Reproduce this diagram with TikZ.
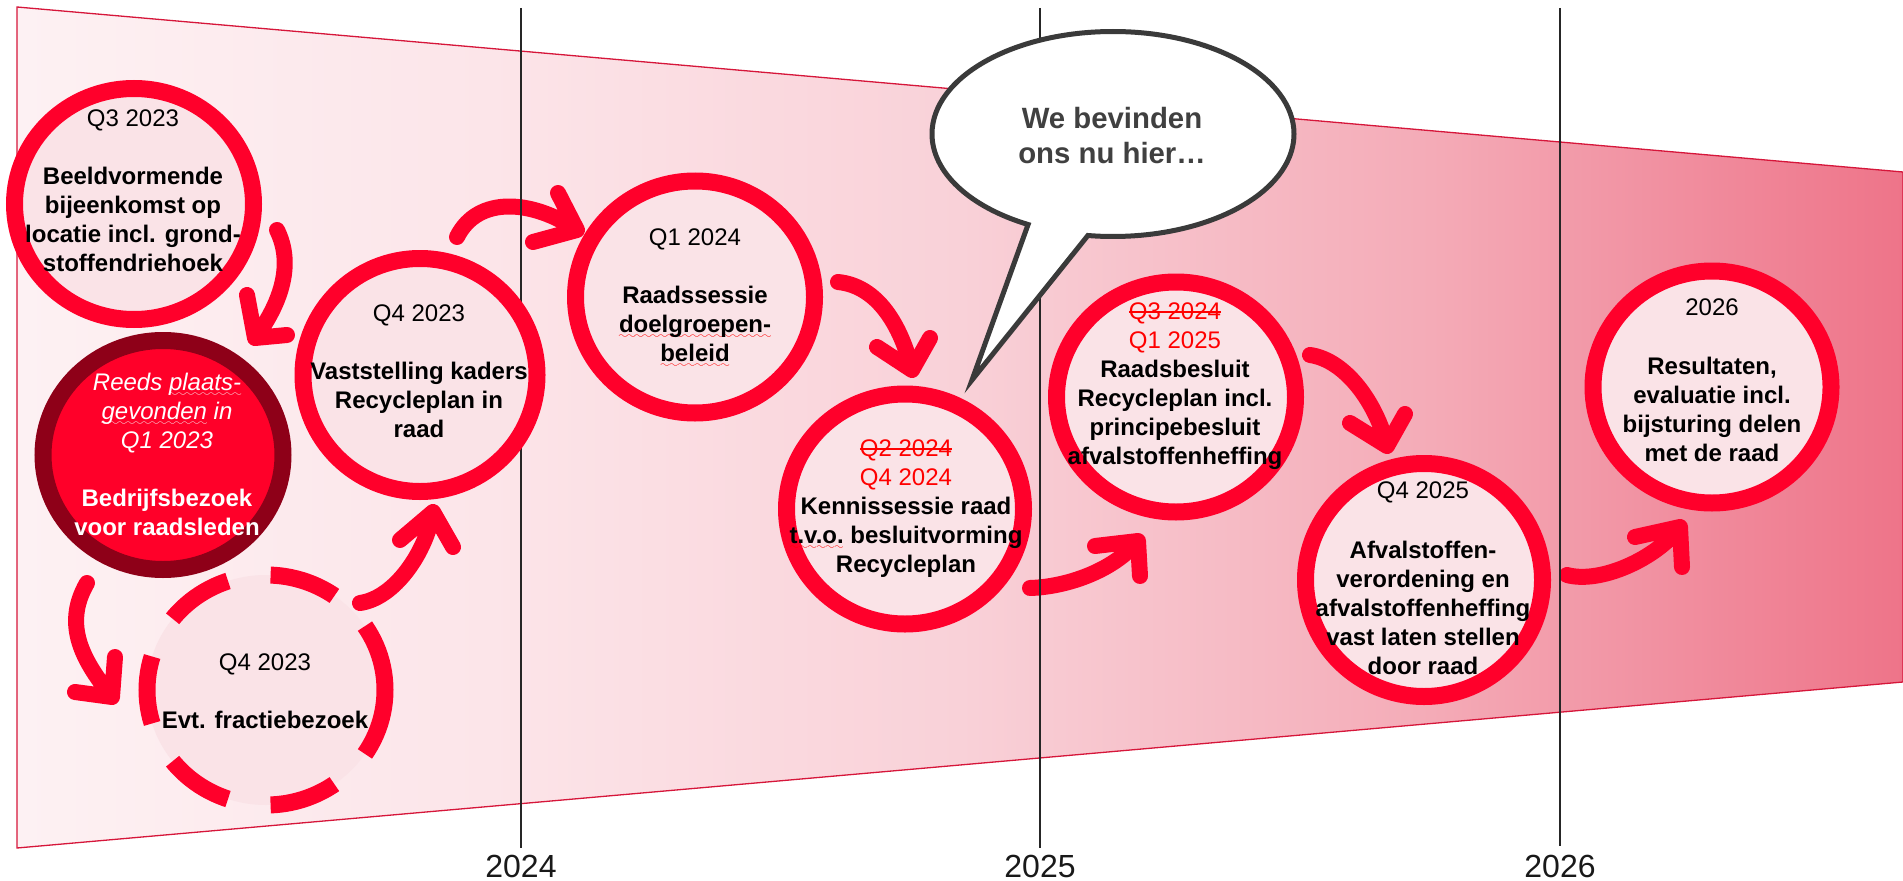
\documentclass[tikz,border=0pt]{standalone}
\usepackage{fontspec}
\setmainfont{Liberation Sans}[Ligatures=NoCommon]
\usetikzlibrary{shapes.geometric,shapes.callouts}
\newdimen\pxu \pxu=0.75pt
\newsavebox\strkbox
\newsavebox\sqbox
\font\wavefont=lasy6 scaled 1200
\newcommand\strk[1]{\sbox\strkbox{#1}\rlap{\usebox\strkbox}\rule[6.5\pxu]{\wd\strkbox}{2\pxu}}
\newcommand\sqw[2][red]{\sbox\sqbox{#2}\rlap{\lower4.5pt\hbox to\wd\sqbox{\color{#1}\xleaders\hbox{\wavefont\char58}\hfil}}\usebox\sqbox}
\definecolor{ringred}{RGB}{255,0,43}
\definecolor{ringfill}{RGB}{250,227,231}
\definecolor{darkring}{RGB}{142,0,24}
\definecolor{darkfill}{RGB}{255,0,41}
\definecolor{trapred}{RGB}{214,22,58}
\definecolor{bubblegray}{RGB}{58,58,58}
\definecolor{bubbletext}{RGB}{64,64,64}
\definecolor{redtext}{RGB}{255,0,0}
\definecolor{bg0}{RGB}{253,241,243}
\definecolor{bg1}{RGB}{252,229,233}
\definecolor{bg2}{RGB}{249,209,216}
\definecolor{bg3}{RGB}{244,171,183}
\definecolor{bg4}{RGB}{238,116,137}
\pgfdeclarehorizontalshading{bgshade}{100bp}{color(0bp)=(bg0); color(25bp)=(bg0); color(37.5bp)=(bg1); color(50bp)=(bg2); color(62.5bp)=(bg3); color(75bp)=(bg4); color(100bp)=(bg4)}
\begin{document}
\begin{tikzpicture}[x=0.75pt,y=-0.75pt,
  ring/.style={ellipse, draw=ringred, fill=ringfill, line width=17\pxu, inner sep=0pt},
  darkcircle/.style={ellipse, draw=darkring, fill=darkfill, line width=17\pxu, inner sep=0pt},
  dashring/.style={ring, dash pattern=on 68\pxu off 43.2\pxu},
  sz/.style 2 args={minimum width=#1\pxu, minimum height=#2\pxu},
  ctext/.style={align=center, anchor=north, inner sep=0pt, text=black, font=\fontsize{18pt}{21.75pt}\selectfont},
  flow/.style={draw=ringred, line width=16\pxu, line cap=round, line join=round},
  yearline/.style={draw=black!85, line width=1.3\pxu},
  yearlabel/.style={inner sep=0pt, text=black!90, font=\fontsize{24pt}{28.8pt}\selectfont}
]
\useasboundingbox (0,0) rectangle (1903,881);

% background band
\draw[shade, shading=bgshade, draw=trapred, line width=1.3\pxu] (17,7) -- (1903,172) -- (1903,682) -- (17,848) -- cycle;

% arrows
\coordinate (a1s) at (277,230);  \coordinate (a1t) at (255,338);
\coordinate (a2s) at (87,583);   \coordinate (a2t) at (112,697);
\coordinate (a3s) at (360,603);  \coordinate (a3t) at (433,512);
\coordinate (a4s) at (457,237);  \coordinate (a4t) at (577,230);
\coordinate (a5s) at (838,282);  \coordinate (a5t) at (912,370);
\coordinate (a6s) at (1030,588); \coordinate (a6t) at (1138,541);
\coordinate (a7s) at (1310,355); \coordinate (a7t) at (1387,446);
\coordinate (a8s) at (1567,575); \coordinate (a8t) at (1680,527);
\draw[flow] (a1s) .. controls (295,266) and (279,306) .. (a1t) ++(-8,-43) -- (a1t) -- +(32,-3);
\draw[flow] (a2s) .. controls (62,626) and (84,662) .. (a2t) ++(3,-40) -- (a2t) -- +(-37,-5);
\draw[flow] (a3s) .. controls (395,598) and (426,552) .. (a3t) ++(-33,28) -- (a3t) -- +(20,35);
\draw[flow] (a4s) .. controls (478,195) and (533,200) .. (a4t) ++(-19,-37) -- (a4t) -- +(-44,12);
\draw[flow] (a5s) .. controls (878,286) and (901,326) .. (a5t) ++(-35,-23) -- (a5t) -- +(18,-32);
\draw[flow] (a6s) .. controls (1065,587) and (1112,572) .. (a6t) ++(-43,5) -- (a6t) -- +(2,35);
\draw[flow] (a7s) .. controls (1345,360) and (1376,402) .. (a7t) ++(-37,-23) -- (a7t) -- +(18,-32);
\draw[flow] (a8s) .. controls (1600,584) and (1656,559) .. (a8t) ++(-45,10) -- (a8t) -- +(2,40);

% year lines and labels
\coordinate (l24t) at (521,8);  \coordinate (l24b) at (521,848);
\coordinate (l25t) at (1040,8); \coordinate (l25b) at (1040,848);
\coordinate (l26t) at (1560,8); \coordinate (l26b) at (1560,846);
\draw[yearline] (l24t) -- (l24b);
\draw[yearline] (l25t) -- (l25b);
\draw[yearline] (l26t) -- (l26b);
\node[yearlabel] (y24) at (521,866) {2024};
\node[yearlabel] (y25) at (1040,866) {2025};
\node[yearlabel] (y26) at (1560,866) {2026};

% circles
\node[ring, sz={239}{231}] (c1) at (134,204) {};
\node[darkcircle, sz={240}{229}] (c2) at (163,455) {};
\node[ring, sz={234}{233}] (c3) at (420,375) {};
\node[ring, sz={239}{232}] (c4) at (695,297) {};
\node[ring, sz={237}{230}] (c5) at (905,509) {};
\node[ring, sz={239}{230}] (c6) at (1176,397) {};
\node[ring, sz={237}{233}] (c7) at (1424,580) {};
\node[ring, sz={238}{232}] (c8) at (1712,387) {};
\node[dashring, sz={238}{230}] (c9) at (266,690) {};

% speech bubble
\node[ellipse callout, draw=bubblegray, fill=white, line width=5\pxu, line join=miter,
      callout absolute pointer={(972,380)}, callout pointer arc=20,
      minimum width=362\pxu, minimum height=205\pxu, inner sep=0pt] (bubble) at (1113,134) {};
\node[align=center, anchor=north, inner sep=0pt, text=bubbletext,
      font=\fontsize{22pt}{26.25pt}\selectfont\bfseries] (bt) at (1112,104.1) {\strut We bevinden\\ons nu hier…};

% circle texts
\node[ctext] (t1) at (133,106.3) {\strut Q3 2023\\[29\pxu]\textbf{Beeldvormende}\\\textbf{bijeenkomst op}\\\textbf{locatie incl. grond-}\\\textbf{stoffendriehoek}};
\node[ctext, text=white] (t2) at (167,370.3) {\strut\textit{Reeds \sqw[ringfill]{plaats-}}\\\textit{\sqw[ringfill]{gevonden} in}\\\textit{Q1 2023}\\[29\pxu]\textbf{Bedrijfsbezoek}\\\textbf{voor raadsleden}};
\node[ctext] (t3) at (419,301.3) {\strut Q4 2023\\[29\pxu]\textbf{Vaststelling kaders}\\\textbf{Recycleplan in}\\\textbf{raad}};
\node[ctext] (t4) at (695,225.3) {\strut Q1 2024\\[29\pxu]\textbf{Raadssessie}\\\textbf{\sqw{doelgroepen-}}\\\textbf{\sqw{beleid}}};
\node[ctext] (t5) at (906,436.3) {\strut\textcolor{redtext}{\strk{Q2 2024}}\\\textcolor{redtext}{Q4 2024}\\\textbf{Kennissessie raad}\\\textbf{\sqw{t.v.o.} besluitvorming}\\\textbf{Recycleplan}};
\node[ctext] (t6) at (1175,299.3) {\strut\textcolor{redtext}{\strk{Q3 2024}}\\\textcolor{redtext}{Q1 2025}\\\textbf{Raadsbesluit}\\\textbf{Recycleplan incl.}\\\textbf{principebesluit}\\\textbf{afvalstoffenheffing}};
\node[ctext] (t7) at (1423,478.3) {\strut Q4 2025\\[31\pxu]\textbf{Afvalstoffen-}\\\textbf{verordening en}\\\textbf{afvalstoffenheffing}\\\textbf{vast laten stellen}\\\textbf{door raad}};
\node[ctext] (t8) at (1712,295.3) {\strut 2026\\[30\pxu]\textbf{Resultaten,}\\\textbf{evaluatie incl.}\\\textbf{bijsturing delen}\\\textbf{met de raad}};
\node[ctext] (t9) at (265,650.3) {\strut Q4 2023\\[29\pxu]\textbf{Evt. fractiebezoek}};
\end{tikzpicture}
\end{document}
